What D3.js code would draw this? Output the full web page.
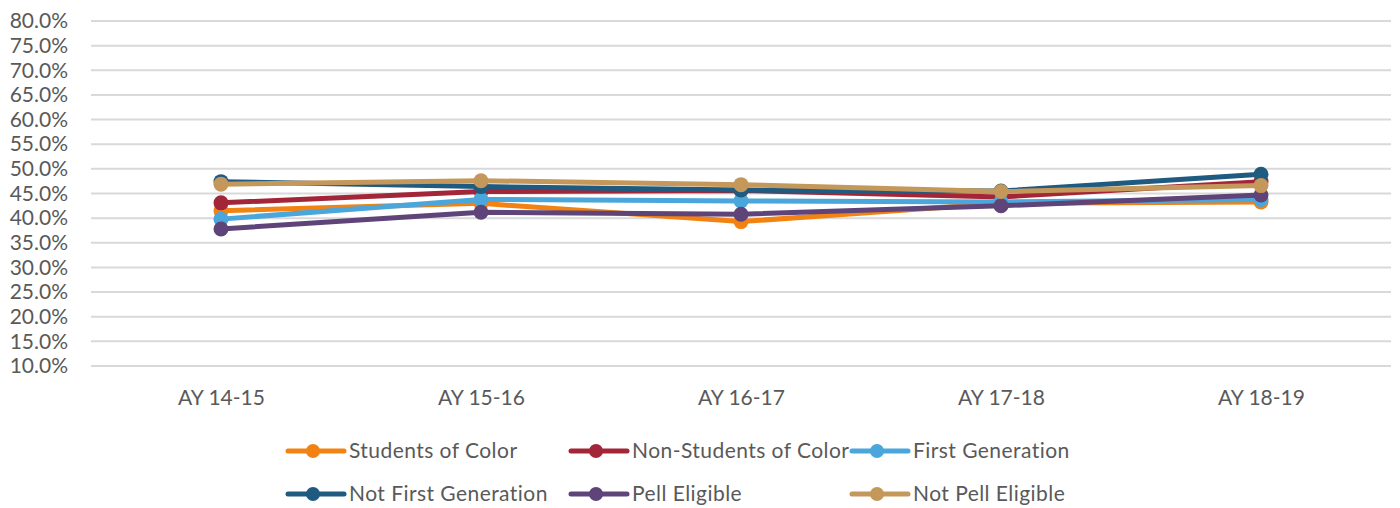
<!DOCTYPE html>
<html>
<head>
<meta charset="utf-8">
<script src="https://cdn.jsdelivr.net/npm/d3@7"></script>
<style>
  html, body { margin: 0; padding: 0; background: #fff; }
  svg { display: block; }
  text { font-family: Lato, "Open Sans", sans-serif; fill: #595959; }
</style>
</head>
<body>
<svg id="chart" width="1400" height="508"></svg>
<script>
// Academic years on the x axis
const years = ["AY 14-15", "AY 15-16", "AY 16-17", "AY 17-18", "AY 18-19"];

// Rates per group (percent)
const studentsOfColor    = [41.5, 43.0, 39.3, 43.0, 43.3];
const nonStudentsOfColor = [43.1, 45.4, 45.6, 44.3, 47.4];
const firstGeneration    = [39.8, 43.8, 43.5, 43.3, 43.8];
const notFirstGeneration = [47.4, 46.4, 45.7, 45.5, 48.9];
const pellEligible       = [37.8, 41.2, 40.8, 42.5, 44.7];
const notPellEligible    = [46.9, 47.6, 46.8, 45.4, 46.6];

const seriesNames  = ["Students of Color", "Non-Students of Color", "First Generation",
                      "Not First Generation", "Pell Eligible", "Not Pell Eligible"];
const seriesColors = ["#F28313", "#A32638", "#4BA6DC", "#1F5A80", "#5E4478", "#C4975A"];
const seriesValues = [studentsOfColor, nonStudentsOfColor, firstGeneration,
                      notFirstGeneration, pellEligible, notPellEligible];

const yTicks = [10, 15, 20, 25, 30, 35, 40, 45, 50, 55, 60, 65, 70, 75, 80];

const FONT = "Lato, 'Open Sans', sans-serif";
const FONT_SIZE = 21;

const svg = d3.select("#chart");
const plot = { left: 91, right: 1391, top: 21, bottom: 366 };

const x = d3.scalePoint().domain(years).range([plot.left, plot.right]).padding(0.5);
const y = d3.scaleLinear().domain([10, 80]).range([plot.bottom, plot.top]);

// Horizontal gridlines
svg.append("g")
  .selectAll("line")
  .data(yTicks)
  .join("line")
  .attr("x1", plot.left).attr("x2", plot.right)
  .attr("y1", d => y(d)).attr("y2", d => y(d))
  .attr("stroke", "#d9d9d9").attr("stroke-width", 2);

// Y axis labels
const yAxis = svg.append("g")
  .attr("transform", `translate(${plot.left - 23},0)`)
  .call(d3.axisLeft(y).tickValues(yTicks).tickSize(0).tickPadding(0)
    .tickFormat(d => d3.format(".1f")(d) + "%"));
yAxis.select(".domain").remove();
yAxis.selectAll("text")
  .attr("font-size", FONT_SIZE).attr("fill", "#595959")
  .style("font-family", FONT);

// X axis labels
const xAxis = svg.append("g")
  .attr("transform", `translate(0,${plot.bottom + 24})`)
  .call(d3.axisBottom(x).tickSize(0).tickPadding(0));
xAxis.select(".domain").remove();
xAxis.selectAll("text")
  .attr("font-size", FONT_SIZE).attr("fill", "#595959")
  .style("font-family", FONT);

// Lines and markers, one group per series
const line = d3.line().x((d, i) => x(years[i])).y(d => y(d));

seriesValues.forEach((vals, k) => {
  const g = svg.append("g");
  g.append("path")
    .datum(vals)
    .attr("d", line)
    .attr("fill", "none")
    .attr("stroke", seriesColors[k])
    .attr("stroke-width", 5)
    .attr("stroke-linejoin", "round")
    .attr("stroke-linecap", "round");
  g.selectAll("circle")
    .data(vals)
    .join("circle")
    .attr("cx", (d, i) => x(years[i]))
    .attr("cy", d => y(d))
    .attr("r", 7.5)
    .attr("fill", seriesColors[k]);
});

// Legend: two rows of three
const legendCols = [288, 571, 852];
const legendRows = [451, 494];
const legend = svg.append("g");
seriesNames.forEach((name, k) => {
  const lx = legendCols[k % 3];
  const ly = legendRows[Math.floor(k / 3)];
  const item = legend.append("g").attr("transform", `translate(${lx},${ly})`);
  item.append("line")
    .attr("x1", 0).attr("x2", 56).attr("y1", 0).attr("y2", 0)
    .attr("stroke", seriesColors[k]).attr("stroke-width", 5)
    .attr("stroke-linecap", "round");
  item.append("circle").attr("cx", 25).attr("cy", 0).attr("r", 7).attr("fill", seriesColors[k]);
  item.append("text")
    .attr("x", 61).attr("y", 0).attr("dy", "0.35em")
    .attr("font-size", FONT_SIZE)
    .attr("letter-spacing", 0.45)
    .style("font-family", FONT)
    .text(name);
});
</script>
</body>
</html>
